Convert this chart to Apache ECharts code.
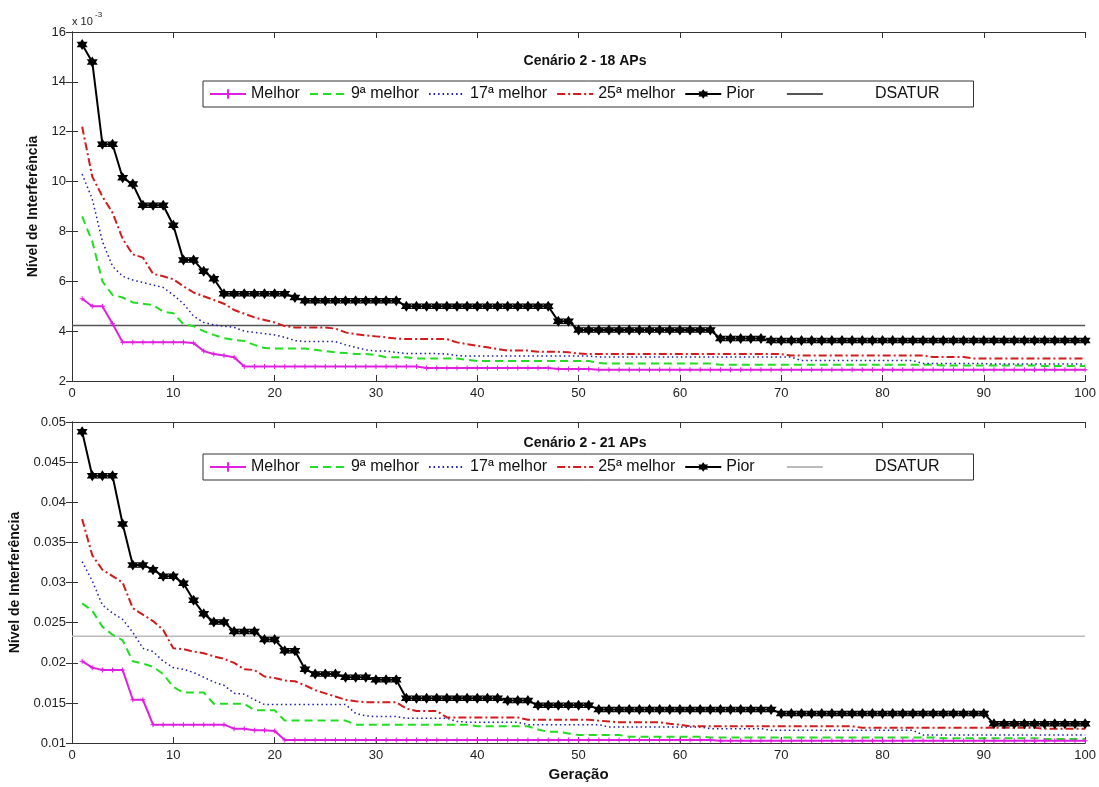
<!DOCTYPE html>
<html>
<head>
<meta charset="utf-8">
<script src="https://cdn.jsdelivr.net/npm/echarts@6/dist/echarts.min.js"></script>
<style>
  html, body { margin: 0; padding: 0; background: #fff; }
  #top { position: absolute; left: 0; top: 0; width: 1099px; height: 400px; }
  #bottom { position: absolute; left: 0; top: 400px; width: 1099px; height: 387px; }
</style>
</head>
<body>
<div id="top"></div>
<div id="bottom"></div>
<script>
// generations 1..100
const gens = []
for (let g = 1; g <= 100; g++) gens.push(g)

const legendNames = ['Melhor', '9ª melhor', '17ª melhor', '25ª melhor', 'Pior', 'DSATUR']

// ---- Cenário 2 - 18 APs (values in x 10^-3) ----
const melhor18 = [
  5.3, 5.0, 5.0, 4.3, 3.55, 3.55, 3.55, 3.55, 3.55, 3.55,
  3.55, 3.52, 3.2, 3.08, 3.02, 2.95, 2.58, 2.58, 2.58, 2.58,
  2.58, 2.58, 2.58, 2.58, 2.58, 2.58, 2.58, 2.58, 2.58, 2.58,
  2.58, 2.58, 2.58, 2.58, 2.52, 2.52, 2.52, 2.52, 2.52, 2.52,
  2.52, 2.52, 2.52, 2.52, 2.52, 2.52, 2.52, 2.48, 2.48, 2.48,
  2.48, 2.45, 2.45, 2.45, 2.45, 2.45, 2.45, 2.45, 2.45, 2.45,
  2.45, 2.45, 2.45, 2.45, 2.45, 2.45, 2.45, 2.45, 2.45, 2.45,
  2.45, 2.45, 2.45, 2.45, 2.45, 2.45, 2.45, 2.45, 2.45, 2.45,
  2.45, 2.45, 2.45, 2.45, 2.45, 2.45, 2.45, 2.45, 2.45, 2.45,
  2.45, 2.45, 2.45, 2.45, 2.45, 2.45, 2.45, 2.45, 2.45, 2.45
]
const nona18 = [
  8.6, 7.6, 6.0, 5.45, 5.35, 5.15, 5.1, 5.05, 4.78, 4.72,
  4.28, 4.2, 4.0, 3.85, 3.72, 3.65, 3.6, 3.45, 3.32, 3.3,
  3.3, 3.3, 3.3, 3.25, 3.2, 3.15, 3.12, 3.08, 3.08, 3.05,
  2.95, 2.95, 2.95, 2.9, 2.9, 2.9, 2.9, 2.9, 2.85, 2.8,
  2.8, 2.8, 2.8, 2.8, 2.8, 2.8, 2.8, 2.8, 2.8, 2.8,
  2.8, 2.72, 2.7, 2.7, 2.7, 2.7, 2.7, 2.7, 2.7, 2.7,
  2.7, 2.7, 2.7, 2.65, 2.65, 2.65, 2.65, 2.65, 2.65, 2.65,
  2.65, 2.65, 2.65, 2.65, 2.65, 2.65, 2.65, 2.65, 2.65, 2.65,
  2.65, 2.65, 2.65, 2.65, 2.65, 2.62, 2.62, 2.62, 2.62, 2.62,
  2.62, 2.62, 2.62, 2.62, 2.62, 2.6, 2.6, 2.6, 2.6, 2.6
]
const decima17_18 = [
  10.3, 9.3, 7.6, 6.6, 6.2, 6.05, 5.95, 5.85, 5.75, 5.45,
  5.1, 4.6, 4.35, 4.25, 4.2, 4.15, 4.0, 3.95, 3.9, 3.85,
  3.75, 3.62, 3.58, 3.58, 3.58, 3.58, 3.45, 3.35, 3.25, 3.2,
  3.2, 3.15, 3.1, 3.1, 3.1, 3.1, 3.08, 3.02, 3.0, 3.0,
  3.0, 3.0, 3.0, 3.0, 3.0, 3.0, 3.0, 3.0, 3.0, 3.0,
  3.0, 2.96, 2.96, 2.96, 2.96, 2.96, 2.96, 2.96, 2.96, 2.96,
  2.96, 2.96, 2.96, 2.96, 2.96, 2.96, 2.96, 2.96, 2.96, 2.96,
  2.96, 2.82, 2.82, 2.82, 2.82, 2.82, 2.82, 2.82, 2.82, 2.82,
  2.82, 2.82, 2.82, 2.7, 2.7, 2.7, 2.7, 2.7, 2.7, 2.7,
  2.68, 2.68, 2.68, 2.68, 2.68, 2.68, 2.68, 2.68, 2.68, 2.68
]
const vigesima25_18 = [
  12.2, 10.2, 9.4, 8.75, 7.7, 7.08, 6.95, 6.3, 6.2, 6.08,
  5.8, 5.55, 5.4, 5.25, 5.1, 4.85, 4.7, 4.55, 4.45, 4.35,
  4.2, 4.15, 4.15, 4.15, 4.15, 4.1, 3.95, 3.88, 3.83, 3.79,
  3.75, 3.7, 3.68, 3.68, 3.68, 3.68, 3.68, 3.55, 3.48, 3.41,
  3.35, 3.28, 3.22, 3.22, 3.22, 3.17, 3.17, 3.17, 3.15, 3.1,
  3.08, 3.08, 3.08, 3.08, 3.08, 3.08, 3.08, 3.08, 3.08, 3.08,
  3.08, 3.08, 3.08, 3.08, 3.08, 3.08, 3.08, 3.08, 3.08, 3.08,
  3.02, 3.02, 3.02, 3.02, 3.02, 3.02, 3.02, 3.02, 3.02, 3.02,
  3.02, 3.02, 3.02, 3.02, 2.96, 2.96, 2.96, 2.96, 2.9, 2.9,
  2.9, 2.9, 2.9, 2.9, 2.9, 2.9, 2.9, 2.9, 2.9, 2.9
]
const pior18 = [
  15.5, 14.8, 11.5, 11.5, 10.15, 9.9, 9.05, 9.05, 9.05, 8.25,
  6.85, 6.85, 6.4, 6.1, 5.5, 5.5, 5.5, 5.5, 5.5, 5.5,
  5.5, 5.35, 5.22, 5.22, 5.22, 5.22, 5.22, 5.22, 5.22, 5.22,
  5.22, 5.22, 5.0, 5.0, 5.0, 5.0, 5.0, 5.0, 5.0, 5.0,
  5.0, 5.0, 5.0, 5.0, 5.0, 5.0, 5.0, 4.4, 4.4, 4.05,
  4.05, 4.05, 4.05, 4.05, 4.05, 4.05, 4.05, 4.05, 4.05, 4.05,
  4.05, 4.05, 4.05, 3.7, 3.7, 3.7, 3.7, 3.7, 3.62, 3.62,
  3.62, 3.62, 3.62, 3.62, 3.62, 3.62, 3.62, 3.62, 3.62, 3.62,
  3.62, 3.62, 3.62, 3.62, 3.62, 3.62, 3.62, 3.62, 3.62, 3.62,
  3.62, 3.62, 3.62, 3.62, 3.62, 3.62, 3.62, 3.62, 3.62, 3.62
]
const dsatur18 = 4.23
const yTicks18 = { min: 2, max: 16, interval: 2 }

// ---- Cenário 2 - 21 APs ----
const melhor21 = [
  0.0202, 0.0194, 0.0191, 0.0191, 0.0191, 0.0154, 0.0154, 0.0123, 0.0123, 0.0123,
  0.0123, 0.0123, 0.0123, 0.0123, 0.0123, 0.0118, 0.0118, 0.0116, 0.0116, 0.0115,
  0.0104, 0.0104, 0.0104, 0.0104, 0.0104, 0.0104, 0.0104, 0.0104, 0.0104, 0.0104,
  0.0104, 0.0104, 0.0104, 0.0104, 0.0104, 0.0104, 0.0104, 0.0104, 0.0104, 0.0104,
  0.0104, 0.0104, 0.0104, 0.0104, 0.0104, 0.0104, 0.0104, 0.0104, 0.0104, 0.0104,
  0.0104, 0.0104, 0.0104, 0.0104, 0.0104, 0.0104, 0.0104, 0.0104, 0.0104, 0.0104,
  0.0104, 0.0104, 0.0104, 0.0103, 0.0103, 0.0103, 0.0103, 0.0103, 0.0103, 0.0103,
  0.0103, 0.0103, 0.0103, 0.0103, 0.0103, 0.0103, 0.0103, 0.0103, 0.0103, 0.0103,
  0.0103, 0.0103, 0.0103, 0.0103, 0.0103, 0.0103, 0.0103, 0.0103, 0.0103, 0.0103,
  0.0103, 0.0103, 0.0103, 0.0103, 0.0103, 0.0103, 0.0103, 0.0103, 0.0103, 0.0103
]
const nona21 = [
  0.0274, 0.0265, 0.0245, 0.0235, 0.0228, 0.0202, 0.0199, 0.0195, 0.0186, 0.0170,
  0.0163, 0.0163, 0.0163, 0.0149, 0.0149, 0.0149, 0.0149, 0.0141, 0.0141, 0.0141,
  0.0128, 0.0128, 0.0128, 0.0128, 0.0128, 0.0128, 0.0128, 0.0123, 0.0123, 0.0123,
  0.0123, 0.0123, 0.0123, 0.0123, 0.0123, 0.0123, 0.0123, 0.0123, 0.0123, 0.0121,
  0.0121, 0.0121, 0.0121, 0.0121, 0.0121, 0.0117, 0.0114, 0.0114, 0.0112, 0.0110,
  0.0110, 0.0110, 0.0110, 0.0110, 0.0108, 0.0108, 0.0108, 0.0108, 0.0108, 0.0108,
  0.0108, 0.0108, 0.0107, 0.0107, 0.0107, 0.0107, 0.0107, 0.0107, 0.0107, 0.0107,
  0.0107, 0.0107, 0.0107, 0.0107, 0.0107, 0.0107, 0.0107, 0.0107, 0.0107, 0.0107,
  0.0107, 0.0107, 0.0107, 0.0107, 0.0107, 0.0106, 0.0106, 0.0106, 0.0106, 0.0106,
  0.0106, 0.0106, 0.0106, 0.0106, 0.0106, 0.0105, 0.0105, 0.0105, 0.0105, 0.0105
]
const decima17_21 = [
  0.0326, 0.0302, 0.0272, 0.0262, 0.0254, 0.0238, 0.0218, 0.0214, 0.0202, 0.0194,
  0.0192, 0.0188, 0.0182, 0.0176, 0.0172, 0.0162, 0.0161, 0.0154, 0.0148, 0.0148,
  0.0148, 0.0148, 0.0148, 0.0148, 0.0148, 0.0148, 0.0148, 0.0137, 0.0134, 0.0133,
  0.0133, 0.0133, 0.0131, 0.0131, 0.0131, 0.0131, 0.0131, 0.0127, 0.0126, 0.0126,
  0.0126, 0.0126, 0.0126, 0.0126, 0.0123, 0.0123, 0.0123, 0.0123, 0.0123, 0.0123,
  0.0123, 0.0123, 0.0120, 0.0120, 0.0120, 0.0120, 0.0120, 0.0120, 0.0120, 0.0120,
  0.0120, 0.0120, 0.0118, 0.0118, 0.0118, 0.0118, 0.0118, 0.0118, 0.0116, 0.0116,
  0.0116, 0.0116, 0.0116, 0.0116, 0.0116, 0.0116, 0.0116, 0.0116, 0.0116, 0.0116,
  0.0116, 0.0116, 0.0116, 0.0110, 0.0110, 0.0110, 0.0110, 0.0110, 0.0110, 0.0110,
  0.0110, 0.0110, 0.0110, 0.0110, 0.0110, 0.0110, 0.0110, 0.0110, 0.0110, 0.0110
]
const vigesima25_21 = [
  0.0379, 0.0334, 0.0316, 0.0308, 0.0300, 0.0268, 0.0260, 0.0252, 0.0241, 0.0218,
  0.0217, 0.0214, 0.0212, 0.0208, 0.0205, 0.0200, 0.0192, 0.0191, 0.0183, 0.0181,
  0.0178, 0.0177, 0.0172, 0.0166, 0.0162, 0.0158, 0.0154, 0.0152, 0.0151, 0.0151,
  0.0151, 0.0151, 0.0143, 0.0140, 0.0140, 0.0140, 0.0132, 0.0132, 0.0132, 0.0132,
  0.0132, 0.0132, 0.0132, 0.0132, 0.0129, 0.0129, 0.0129, 0.0129, 0.0129, 0.0129,
  0.0129, 0.0128, 0.0127, 0.0126, 0.0126, 0.0126, 0.0126, 0.0126, 0.0124, 0.0123,
  0.0121, 0.0121, 0.0121, 0.0121, 0.0121, 0.0121, 0.0121, 0.0121, 0.0121, 0.0121,
  0.0121, 0.0121, 0.0121, 0.0121, 0.0121, 0.0121, 0.0121, 0.0119, 0.0119, 0.0119,
  0.0119, 0.0119, 0.0119, 0.0119, 0.0119, 0.0119, 0.0119, 0.0119, 0.0119, 0.0119,
  0.0119, 0.0119, 0.0119, 0.0119, 0.0119, 0.0118, 0.0118, 0.0118, 0.0118, 0.0118
]
const pior21 = [
  0.0488, 0.0433, 0.0433, 0.0433, 0.0373, 0.0322, 0.0322, 0.0316, 0.0308, 0.0308,
  0.0299, 0.0278, 0.0261, 0.0251, 0.0251, 0.0239, 0.0239, 0.0239, 0.0229, 0.0229,
  0.0215, 0.0215, 0.0192, 0.0186, 0.0186, 0.0186, 0.0182, 0.0182, 0.0182, 0.0179,
  0.0179, 0.0179, 0.0156, 0.0156, 0.0156, 0.0156, 0.0156, 0.0156, 0.0156, 0.0156,
  0.0156, 0.0156, 0.0153, 0.0153, 0.0153, 0.0147, 0.0147, 0.0147, 0.0147, 0.0147,
  0.0147, 0.0142, 0.0142, 0.0142, 0.0142, 0.0142, 0.0142, 0.0142, 0.0142, 0.0142,
  0.0142, 0.0142, 0.0142, 0.0142, 0.0142, 0.0142, 0.0142, 0.0142, 0.0142, 0.0137,
  0.0137, 0.0137, 0.0137, 0.0137, 0.0137, 0.0137, 0.0137, 0.0137, 0.0137, 0.0137,
  0.0137, 0.0137, 0.0137, 0.0137, 0.0137, 0.0137, 0.0137, 0.0137, 0.0137, 0.0137,
  0.0124, 0.0124, 0.0124, 0.0124, 0.0124, 0.0124, 0.0124, 0.0124, 0.0124, 0.0124
]
const dsatur21 = 0.0233
const yTicks21 = { min: 0.01, max: 0.05, interval: 0.005 }

const xTicks = { min: 0, max: 100, interval: 10 }

const FONT = 'Liberation Sans, Arial, sans-serif'
const hexagram = 'path://M10,0L12.89,5L18.66,5L15.77,10L18.66,15L12.89,15L10,20L7.11,15L1.34,15L4.23,10L1.34,5L7.11,5Z'
const plus = 'path://M4,0H6V4H10V6H6V10H4V6H0V4H4Z'
// series drawn without markers: hide the marker in the legend sample too
const noMarker = ['9ª melhor', '17ª melhor', '25ª melhor', 'DSATUR']

function pairs(arr) {
  return gens.map((g, i) => [g, arr[i]])
}

function legendData(dsaturColor) {
  return legendNames.map(n => {
    const item = { name: n }
    if (noMarker.includes(n)) item.itemStyle = { opacity: 0 }
    if (n === 'DSATUR') item.lineStyle = { color: dsaturColor }
    return item
  })
}

function buildOption(cfg) {
  const axisLine = { lineStyle: { color: '#333', width: 1 } }
  const tick = { inside: true, length: 6, lineStyle: { color: '#333' } }
  const label = { color: '#222', fontSize: 13, fontFamily: FONT }
  return {
    animation: false,
    backgroundColor: '#fff',
    title: {
      text: cfg.title,
      left: 580,
      textAlign: 'center',
      top: cfg.titleTop,
      textStyle: { fontSize: 14, fontWeight: 'bold', color: '#111', fontFamily: FONT }
    },
    legend: {
      data: legendData(cfg.dsaturColor),
      left: 203,
      top: cfg.legendTop,
      itemWidth: 36,
      itemHeight: 12,
      itemGap: 9,
      padding: [5, 34, 5, 6],
      borderColor: '#333',
      borderWidth: 1,
      backgroundColor: '#fff',
      textStyle: {
        fontSize: 16, color: '#111', fontFamily: FONT,
        rich: { padB: { width: 47 } }
      },
      formatter: name => {
        if (name === 'Pior') return name + '\u00a0\u00a0\u00a0\u00a0\u00a0'
        if (name === 'DSATUR') return '{padB| }' + name
        return name
      }
    },
    grid: { left: 72, right: 12, top: cfg.gridTop, height: cfg.gridHeight },
    xAxis: [
      {
        type: 'value', min: xTicks.min, max: xTicks.max, interval: xTicks.interval,
        axisLine: axisLine, axisTick: tick, splitLine: { show: false },
        axisLabel: Object.assign({ margin: 6 }, label),
        name: cfg.xName, nameLocation: 'middle', nameGap: 20,
        nameTextStyle: { fontSize: 15, fontWeight: 'bold', color: '#111', fontFamily: FONT }
      },
      {
        type: 'value', position: 'top', min: xTicks.min, max: xTicks.max, interval: xTicks.interval,
        axisLine: axisLine, axisTick: tick, splitLine: { show: false }, axisLabel: { show: false }
      }
    ],
    yAxis: [
      {
        type: 'value', min: cfg.y.min, max: cfg.y.max, interval: cfg.y.interval,
        axisLine: Object.assign({ show: true }, axisLine), axisTick: tick, splitLine: { show: false },
        axisLabel: Object.assign({ margin: 6 }, label),
        name: 'Nível de Interferência', nameLocation: 'middle', nameGap: cfg.yNameGap,
        nameTextStyle: { fontSize: 14, fontWeight: 'bold', color: '#111', fontFamily: FONT }
      },
      {
        type: 'value', position: 'right', min: cfg.y.min, max: cfg.y.max, interval: cfg.y.interval,
        axisLine: Object.assign({ show: true }, axisLine), axisTick: tick, splitLine: { show: false },
        axisLabel: { show: false }
      }
    ],
    graphic: cfg.graphic || [],
    series: [
      {
        name: 'Melhor', type: 'line', data: pairs(cfg.melhor),
        symbol: plus, symbolSize: 5, showSymbol: true,
        lineStyle: { color: '#e020e0', width: 2 }, itemStyle: { color: '#e020e0' }, z: 6
      },
      {
        name: '9ª melhor', type: 'line', data: pairs(cfg.nona), symbol: 'none',
        lineStyle: { color: '#22dd22', width: 2, type: [8, 5] }, itemStyle: { color: '#22dd22' }
      },
      {
        name: '17ª melhor', type: 'line', data: pairs(cfg.dec17), symbol: 'none',
        lineStyle: { color: '#1a1aa8', width: 1.5, type: [1.5, 3] }, itemStyle: { color: '#1a1aa8' }
      },
      {
        name: '25ª melhor', type: 'line', data: pairs(cfg.vig25), symbol: 'none',
        lineStyle: { color: '#d01c1c', width: 2, type: [8, 3, 2, 3] }, itemStyle: { color: '#d01c1c' }
      },
      {
        name: 'Pior', type: 'line', data: pairs(cfg.pior),
        symbol: hexagram, symbolSize: 11, showSymbol: true,
        lineStyle: { color: '#000', width: 2 }, itemStyle: { color: '#000' }, z: 5
      },
      {
        name: 'DSATUR', type: 'line', symbol: 'none',
        data: [[xTicks.min, cfg.dsatur], [xTicks.max, cfg.dsatur]],
        lineStyle: { color: cfg.dsaturColor, width: 1.5 }, itemStyle: { color: cfg.dsaturColor }, z: 1
      }
    ]
  }
}

const topChart = echarts.init(document.getElementById('top'))
topChart.setOption(buildOption({
  title: 'Cenário 2 - 18 APs', titleTop: 49,
  legendTop: 81, gridTop: 32, gridHeight: 350,
  y: yTicks18, yNameGap: 24, xName: '',
  melhor: melhor18, nona: nona18, dec17: decima17_18, vig25: vigesima25_18, pior: pior18,
  dsatur: dsatur18, dsaturColor: '#555',
  graphic: [
    { type: 'text', left: 72, top: 16, style: { text: 'x 10', fontSize: 11, fill: '#222', fontFamily: FONT } },
    { type: 'text', left: 95, top: 11, style: { text: '-3', fontSize: 8, fill: '#222', fontFamily: FONT } }
  ]
}))

const bottomChart = echarts.init(document.getElementById('bottom'))
bottomChart.setOption(buildOption({
  title: 'Cenário 2 - 21 APs', titleTop: 31,
  legendTop: 54, gridTop: 22, gridHeight: 333,
  y: yTicks21, yNameGap: 43, xName: 'Geração',
  melhor: melhor21, nona: nona21, dec17: decima17_21, vig25: vigesima25_21, pior: pior21,
  dsatur: dsatur21, dsaturColor: '#bbb'
}))
</script>
</body>
</html>
